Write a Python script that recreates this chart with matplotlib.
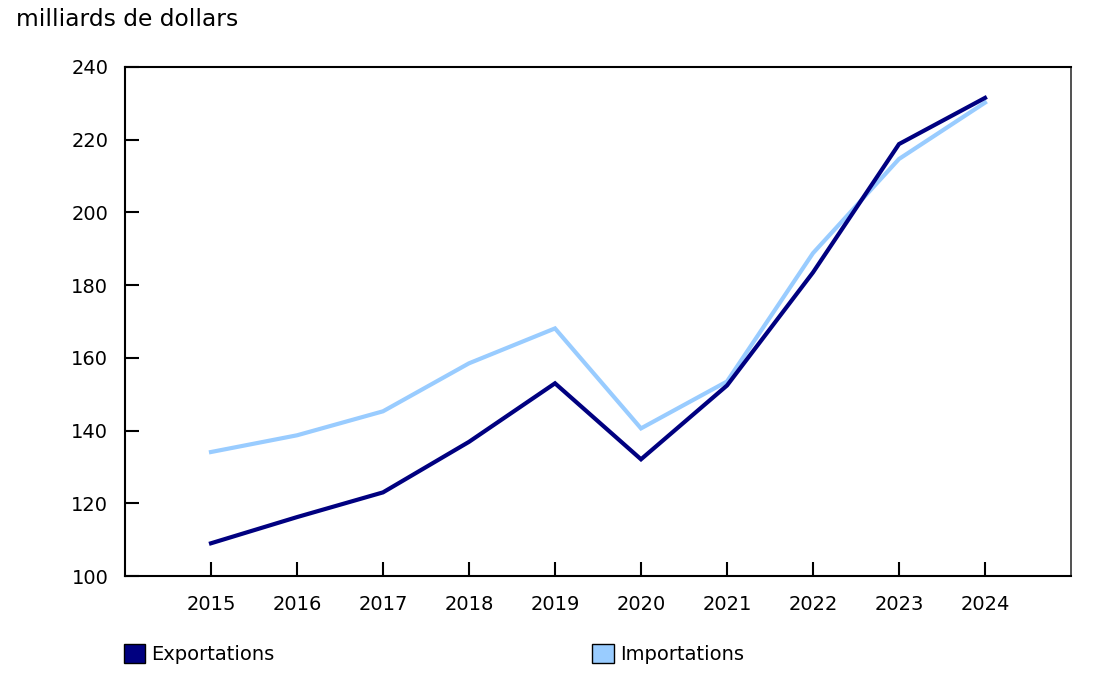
import matplotlib
matplotlib.use("Agg")
import matplotlib.pyplot as plt
from matplotlib.patches import Patch

years = [2015, 2016, 2017, 2018, 2019, 2020, 2021, 2022, 2023, 2024]
exportations = [109.0, 116.2, 123.0, 136.9, 153.0, 132.1, 152.4, 183.5, 218.8, 231.5]
importations = [134.1, 138.7, 145.3, 158.5, 168.1, 140.6, 153.5, 188.8, 214.7, 230.2]
y_ticks = [100, 120, 140, 160, 180, 200, 220, 240]

c_exp = "#000080"
c_imp = "#99ccff"

plt.rcParams['font.family'] = ['DejaVu Sans']
fig = plt.figure(figsize=(11.03, 6.76), dpi=100)
ax = fig.add_axes([125/1103, 1 - 576/676, (1071-125)/1103, (576-67)/676])

ax.plot(years, importations, color=c_imp, lw=3, solid_joinstyle='miter')
ax.plot(years, exportations, color=c_exp, lw=3, solid_joinstyle='miter')

ax.set_xlim(2014, 2025)
ax.set_ylim(100, 240)
ax.set_xticks(years)
ax.set_xticklabels([str(y) for y in years])
ax.set_yticks(y_ticks)
ax.tick_params(axis='both', direction='in', length=10, width=1.5, labelsize=14, colors='black')
ax.tick_params(axis='x', pad=14)
ax.tick_params(axis='y', pad=12)
for s in ['left', 'bottom', 'top']:
    ax.spines[s].set_linewidth(1.5)
    ax.spines[s].set_color('black')
ax.spines['right'].set_linewidth(1.2)
ax.spines['right'].set_color('#333333')

fig.text(16/1103, 1 - 20/676, "milliards de dollars", fontsize=16.8, va='center', ha='left')

handles = [Patch(facecolor=c_exp, edgecolor='black', label='Exportations')]
fig.legend(handles=handles, loc='center left', bbox_to_anchor=(106/1103, 1 - 654/676),
           frameon=False, fontsize=14.0, handlelength=1.1, handleheight=1.1, handletextpad=0.3)
handles2 = [Patch(facecolor=c_imp, edgecolor='black', label='Importations')]
fig.legend(handles=handles2, loc='center left', bbox_to_anchor=(575/1103, 1 - 654/676),
           frameon=False, fontsize=14.0, handlelength=1.1, handleheight=1.1, handletextpad=0.3)

fig.savefig("out.png", dpi=100)
